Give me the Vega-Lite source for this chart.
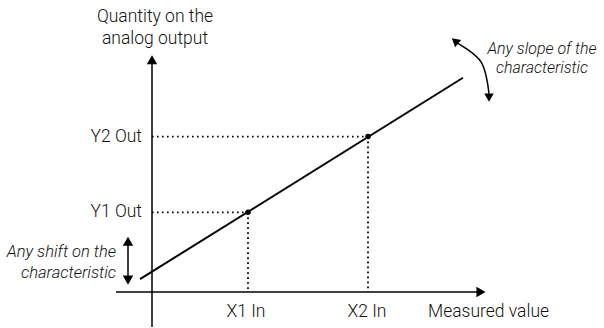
{
  "$schema": "https://vega.github.io/schema/vega-lite/v6.json",
  "width": 604,
  "height": 328,
  "autosize": {"type": "fit", "contains": "padding"},
  "padding": 0,
  "background": "white",
  "config": {"view": {"stroke": null}, "text": {"font": "Roboto", "fontWeight": 300, "fontSize": 17.5, "color": "#111"}},
  "encoding": {
    "x": {"field": "x", "type": "quantitative", "scale": {"domain": [0, 604], "nice": false, "zero": false}, "axis": null},
    "y": {"field": "y", "type": "quantitative", "scale": {"domain": [0, 328], "nice": false, "zero": false}, "axis": null}
  },
  "layer": [
    {
      "data": {"values": [
        {"x": 152, "y": 0, "x2": 152, "y2": 265},
        {"x": 116, "y": 35, "x2": 478, "y2": 35},
        {"x": 128, "y": 46, "x2": 128, "y2": 86}
      ]},
      "mark": {"type": "rule", "strokeWidth": 1.5, "color": "#000"},
      "encoding": {"x2": {"field": "x2"}, "y2": {"field": "y2"}}
    },
    {
      "data": {"values": [
        {"x": 152, "y": 115, "x2": 248, "y2": 115},
        {"x": 248, "y": 115, "x2": 248, "y2": 35},
        {"x": 152, "y": 191, "x2": 368, "y2": 191},
        {"x": 368, "y": 191, "x2": 368, "y2": 35}
      ]},
      "mark": {"type": "rule", "strokeWidth": 1.8, "strokeDash": [1.6, 3.4], "color": "#000"},
      "encoding": {"x2": {"field": "x2"}, "y2": {"field": "y2"}}
    },
    {
      "data": {"values": [{"x": 140, "y": 48, "x2": 463, "y2": 250}]},
      "mark": {"type": "rule", "strokeWidth": 2, "color": "#000"},
      "encoding": {"x2": {"field": "x2"}, "y2": {"field": "y2"}}
    },
    {
      "data": {"values": [{"x": 248, "y": 115}, {"x": 368, "y": 191}]},
      "mark": {"type": "point", "shape": "circle", "filled": true, "size": 30, "color": "#000", "opacity": 1}
    },
    {
      "data": {"values": [{"x": 152, "y": 268}, {"x": 128, "y": 86}]},
      "mark": {"type": "point", "shape": "triangle-up", "filled": true, "size": 110, "color": "#000", "opacity": 1}
    },
    {
      "data": {"values": [{"x": 128, "y": 47}]},
      "mark": {"type": "point", "shape": "triangle-down", "filled": true, "size": 110, "color": "#000", "opacity": 1}
    },
    {
      "data": {"values": [{"x": 481, "y": 35}]},
      "mark": {"type": "point", "shape": "triangle-right", "filled": true, "size": 110, "color": "#000", "opacity": 1}
    },
    {
      "data": {"values": [{"x": 457, "y": 285}, {"x": 481, "y": 266}, {"x": 489, "y": 234}]},
      "mark": {"type": "line", "interpolate": "cardinal", "strokeWidth": 1.5, "color": "#000"},
      "encoding": {"order": {"field": "x"}}
    },
    {
      "data": {"values": [{"x": 455, "y": 287}]},
      "mark": {"type": "point", "shape": "triangle-up", "filled": true, "size": 90, "angle": -50, "color": "#000", "opacity": 1}
    },
    {
      "data": {"values": [{"x": 489, "y": 230}]},
      "mark": {"type": "point", "shape": "triangle-down", "filled": true, "size": 90, "angle": 0, "color": "#000", "opacity": 1}
    },
    {
      "data": {"values": [
        {"x": 142, "y": 191, "label": "Y2 Out"},
        {"x": 142, "y": 115, "label": "Y1 Out"}
      ]},
      "mark": {"type": "text", "align": "right", "baseline": "middle"},
      "encoding": {"text": {"field": "label"}}
    },
    {
      "data": {"values": [
        {"x": 246, "y": 15, "label": "X1 In"},
        {"x": 367, "y": 15, "label": "X2 In"},
        {"x": 155, "y": 311, "label": "Quantity on the"},
        {"x": 155, "y": 289, "label": "analog output"}
      ]},
      "mark": {"type": "text", "align": "center", "baseline": "middle"},
      "encoding": {"text": {"field": "label"}}
    },
    {
      "data": {"values": [{"x": 428, "y": 15, "label": "Measured value"}]},
      "mark": {"type": "text", "align": "left", "baseline": "middle"},
      "encoding": {"text": {"field": "label"}}
    },
    {
      "data": {"values": [
        {"x": 542, "y": 279, "label": "Any slope of the"},
        {"x": 542, "y": 260, "label": "characteristic"}
      ]},
      "mark": {"type": "text", "align": "center", "baseline": "middle", "fontStyle": "italic", "fontSize": 16},
      "encoding": {"text": {"field": "label"}}
    },
    {
      "data": {"values": [
        {"x": 116, "y": 75, "label": "Any shift on the"},
        {"x": 116, "y": 54, "label": "characteristic"}
      ]},
      "mark": {"type": "text", "align": "right", "baseline": "middle", "fontStyle": "italic", "fontSize": 16.5},
      "encoding": {"text": {"field": "label"}}
    }
  ]
}
